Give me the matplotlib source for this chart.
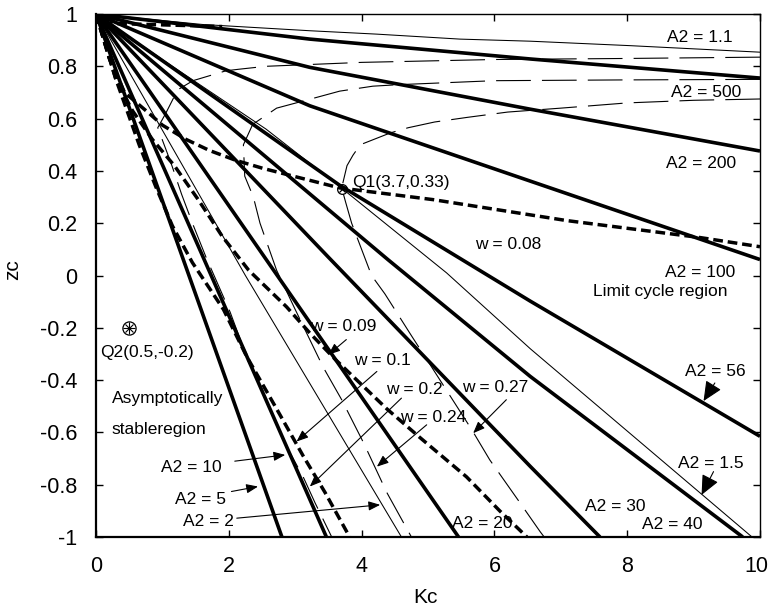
import numpy as np
import matplotlib
matplotlib.use("Agg")
import matplotlib.pyplot as plt
from matplotlib.transforms import ScaledTranslation

plt.rcParams['font.family'] = ['Liberation Sans', 'DejaVu Sans']
plt.rcParams['axes.unicode_minus'] = False
plt.rcParams['lines.scale_dashes'] = False

# ---------------- data (Kc, zc) ----------------
xticks = [0, 2, 4, 6, 8, 10]
xtick_labels = ["0", "2", "4", "6", "8", "10"]
yticks = [1, 0.8, 0.6, 0.4, 0.2, 0, -0.2, -0.4, -0.6, -0.8, -1]
ytick_labels = ["1", "0.8", "0.6", "0.4", "0.2", "0", "-0.2", "-0.4", "-0.6", "-0.8", "-1"]

# thick solid A2 curves
a2_500_kc = [0, 3.22, 6.54, 10]
a2_500_zc = [1, 0.904, 0.828, 0.755]
a2_200_kc = [0, 3.22, 6.54, 10]
a2_200_zc = [1, 0.796, 0.636, 0.476]
a2_100_kc = [0, 3.22, 6.54, 10]
a2_100_zc = [1, 0.649, 0.361, 0.061]
a2_56_kc = [0, 3.67, 6.54, 10]
a2_56_zc = [1, 0.345, -0.098, -0.615]
a2_40_kc = [0, 4.4, 6.54, 9.74]
a2_40_zc = [1, 0.06, -0.386, -1]
a2_30_kc = [0, 3.5, 6.54, 7.59]
a2_30_zc = [1, 0.07, -0.73, -1]
a2_20_kc = [0, 5.46]
a2_20_zc = [1, -1]
a2_10_kc = [0, 3.47]
a2_10_zc = [1, -1]
a2_5_kc = [0, 2.8]
a2_5_zc = [1, -1]

# thin solid A2 curves
a2_1p1_kc = [0, 1.6, 3.22, 4.23, 5.48, 6.54, 8.04, 10]
a2_1p1_zc = [1, 0.96, 0.936, 0.923, 0.904, 0.896, 0.879, 0.854]
a2_1p5_kc = [0, 1.15, 2.56, 3.67, 5.28, 6.54, 9.88]
a2_1p5_zc = [1, 0.80, 0.56, 0.34, 0.01, -0.28, -1]
a2_2_kc = [0, 2.25, 4.6]
a2_2_zc = [1, 0.0, -1]

# thick dashed w curves
w_008_kc = [0, 0.2, 0.43, 0.8, 1.0, 1.36, 1.71, 2.11, 2.51, 2.97, 3.67, 5.08, 7.09, 9.1, 10]
w_008_zc = [1, 0.83, 0.70, 0.62, 0.575, 0.52, 0.478, 0.44, 0.41, 0.38, 0.335, 0.29, 0.21, 0.145, 0.11]
w_009_kc = [0, 0.3, 0.55, 0.85, 1.18, 1.54, 1.9, 2.3, 2.87, 3.22, 3.6, 4.38, 4.88, 5.58, 6.08, 6.49]
w_009_zc = [1, 0.75, 0.63, 0.52, 0.42, 0.29, 0.15, 0.02, -0.12, -0.22, -0.32, -0.51, -0.62, -0.77, -0.9, -1]
w_010_kc = [0, 0.3, 0.65, 0.9, 1.15, 1.45, 1.92, 2.27, 2.72, 3.12, 3.45, 3.82]
w_010_zc = [1, 0.75, 0.5, 0.34, 0.19, 0.05, -0.13, -0.31, -0.51, -0.69, -0.83, -1]
w_top_kc = [0.1, 1.9]
w_top_zc = [0.965, 0.952]

# thin long-dashed w curves
w_020_kc = [10, 8, 6, 4, 2.56, 2.16, 1.96, 1.46, 1.23, 1.05, 0.93, 1.13, 1.29, 1.46,
            1.66, 1.83, 2.02, 2.21, 2.5, 2.87, 3.12, 3.3, 3.55]
w_020_zc = [0.835, 0.83, 0.826, 0.815, 0.80, 0.789, 0.783, 0.745, 0.71, 0.62, 0.565, 0.43, 0.31, 0.195,
            0.068, -0.03, -0.14, -0.27, -0.44, -0.654, -0.77, -0.87, -1]
w_024_kc = [10, 8, 6, 4.58, 4.17, 3.67, 3.22, 2.72, 2.36, 2.22, 2.24, 2.37, 2.47, 2.72,
            3.0, 3.42, 3.7, 4.03, 4.38, 4.75]
w_024_zc = [0.75, 0.748, 0.745, 0.73, 0.724, 0.705, 0.674, 0.64, 0.578, 0.5, 0.38, 0.30, 0.20, 0.02,
            -0.13, -0.35, -0.475, -0.64, -0.83, -1]
w_027_kc = [10, 9, 8, 7, 6.2, 5.6, 5.1, 4.7, 4.43, 4.23, 3.98, 3.87, 3.78, 3.7, 3.76, 3.85,
            4.0, 4.15, 4.35, 4.75, 5.08, 5.66, 5.93, 6.36, 6.69, 6.75]
w_027_zc = [0.675, 0.67, 0.66, 0.64, 0.625, 0.605, 0.587, 0.565, 0.545, 0.525, 0.5, 0.46, 0.42, 0.335,
            0.28, 0.2, 0.1, 0.0, -0.07, -0.23, -0.36, -0.59, -0.705, -0.86, -0.98, -1]

q1_kc, q1_zc = 3.7, 0.33
q2_kc, q2_zc = 0.5, -0.2

# ---------------- figure ----------------
fig = plt.figure(figsize=(7.7, 6.11), dpi=100)
ax = fig.add_axes([96 / 770, 1 - 537 / 611, 664 / 770, 523 / 611])

thick = dict(color='k', lw=2.6, solid_capstyle='butt', solid_joinstyle='round')
thin = dict(color='k', lw=0.75, solid_joinstyle='round')
tdash = dict(color='k', lw=2.5, linestyle=(0, (7, 3.5)), dash_capstyle='butt')
ldash = dict(color='k', lw=0.8, linestyle=(0, (25, 8)), dash_capstyle='butt')

for kc, zc in [(a2_500_kc, a2_500_zc), (a2_200_kc, a2_200_zc), (a2_100_kc, a2_100_zc),
               (a2_56_kc, a2_56_zc), (a2_40_kc, a2_40_zc), (a2_30_kc, a2_30_zc),
               (a2_20_kc, a2_20_zc), (a2_10_kc, a2_10_zc), (a2_5_kc, a2_5_zc)]:
    ax.plot(kc, zc, **thick)
for kc, zc in [(a2_1p1_kc, a2_1p1_zc), (a2_1p5_kc, a2_1p5_zc), (a2_2_kc, a2_2_zc)]:
    ax.plot(kc, zc, **thin)
for kc, zc in [(w_008_kc, w_008_zc), (w_009_kc, w_009_zc), (w_010_kc, w_010_zc), (w_top_kc, w_top_zc)]:
    ax.plot(kc, zc, **tdash)
for kc, zc in [(w_020_kc, w_020_zc), (w_024_kc, w_024_zc), (w_027_kc, w_027_zc)]:
    ax.plot(kc, zc, **ldash)

# points
ax.plot([q1_kc], [q1_zc], marker='o', ms=7, mfc='none', mec='k', mew=0.9, ls='none')
ax.plot([q1_kc], [q1_zc], marker='x', ms=5, mec='k', mew=0.9, ls='none')
ax.plot([q2_kc], [q2_zc], marker='o', ms=9.5, mfc='none', mec='k', mew=0.9, ls='none')
ax.plot([q2_kc], [q2_zc], marker='+', ms=8, mec='k', mew=0.8, ls='none')
ax.plot([q2_kc], [q2_zc], marker='x', ms=6, mec='k', mew=0.8, ls='none')

fs = 12.5
def lab(x, y, s, ha='center'):
    ax.text(x, y, s, fontsize=fs, ha=ha, va='center')

lab(9.1, 0.91, "A2 = 1.1")
lab(9.19, 0.70, "A2 = 500")
lab(9.11, 0.43, "A2 = 200")
lab(6.2, 0.12, "w = 0.08")
lab(9.1, 0.01, "A2 = 100")
lab(8.5, -0.06, "Limit cycle region")
lab(3.86, 0.355, "Q1(3.7,0.33)", ha='left')
lab(0.76, -0.293, "Q2(0.5,-0.2)")
lab(0.24, -0.47, "Asymptotically", ha='left')
lab(0.24, -0.59, "stableregion", ha='left')
lab(1.44, -0.734, "A2 = 10")
lab(1.57, -0.855, "A2 = 5")
lab(1.70, -0.94, "A2 = 2")
lab(3.72, -0.194, "w = 0.09")
lab(4.31, -0.325, "w = 0.1")
lab(4.79, -0.437, "w = 0.2")
lab(5.08, -0.542, "w = 0.24")
lab(6.01, -0.43, "w = 0.27")
lab(5.81, -0.947, "A2 = 20")
lab(9.32, -0.367, "A2 = 56")
lab(9.26, -0.718, "A2 = 1.5")
lab(7.82, -0.884, "A2 = 30")
lab(8.68, -0.954, "A2 = 40")

def arr(start, tip, ms=14, hl=0.5, hw=0.2):
    ax.annotate("", xy=tip, xytext=start,
                arrowprops=dict(arrowstyle='-|>,head_length=%g,head_width=%g' % (hl, hw),
                                color='k', lw=0.8, shrinkA=0, shrinkB=0, mutation_scale=ms))

arr((2.09, -0.71), (2.85, -0.686))
arr((2.04, -0.826), (2.44, -0.807))
arr((2.12, -0.928), (4.28, -0.877))
arr((3.77, -0.245), (3.5, -0.303))
arr((4.23, -0.367), (3.02, -0.635))
arr((4.6, -0.469), (3.22, -0.807))
arr((4.98, -0.571), (4.23, -0.731))
arr((6.18, -0.475), (5.68, -0.603))
arr((9.32, -0.411), (9.15, -0.48), ms=22, hl=0.55, hw=0.25)
arr((9.3, -0.75), (9.12, -0.839), ms=22, hl=0.55, hw=0.25)

ax.set_xlim(0, 10)
ax.set_ylim(-1, 1)
ax.set_xticks(xticks)
ax.set_xticklabels(xtick_labels)
ax.set_yticks(yticks)
ax.set_yticklabels(ytick_labels)
ax.tick_params(direction='in', length=5, width=1, top=True, right=True,
               labeltop=False, labelright=False, labelsize=15.5, pad=13.5)
for s in ['left', 'bottom']:
    ax.spines[s].set_linewidth(1.6)
for s in ['top', 'right']:
    ax.spines[s].set_linewidth(1.0)

# keep the last x tick label inside the figure
last = ax.get_xticklabels()[-1]
last.set_transform(last.get_transform() + ScaledTranslation(-4 / 100, 0, fig.dpi_scale_trans))

ax.set_xlabel("Kc", fontsize=15)
ax.set_ylabel("zc", fontsize=15)
ax.xaxis.set_label_coords((425 - 96) / 664, (537 - 588) / 523)
ax.yaxis.set_label_coords((22 - 96) / 664, (537 - 270) / 523)

fig.savefig("out.png", dpi=100)
